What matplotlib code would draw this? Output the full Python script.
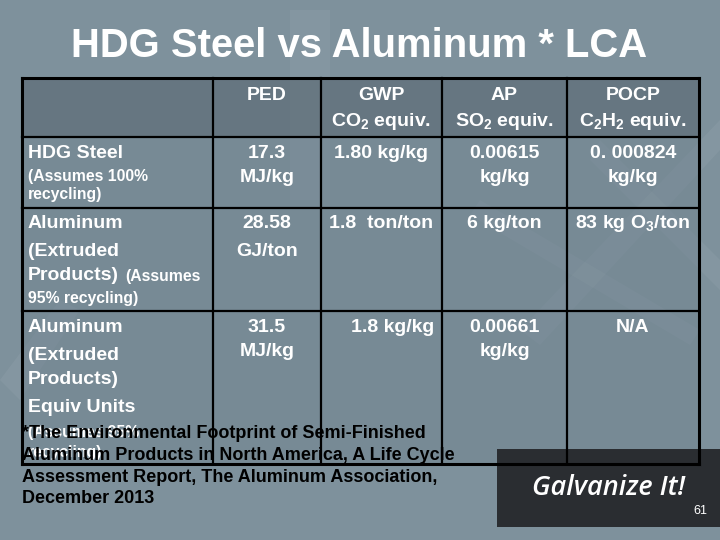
import matplotlib
matplotlib.use("Agg")
import matplotlib.pyplot as plt
from matplotlib.patches import Rectangle, Polygon

plt.rcParams["font.family"] = ["Liberation Sans", "DejaVu Sans"]
plt.rcParams["mathtext.fontset"] = "custom"
plt.rcParams["mathtext.rm"] = "Liberation Sans:bold"
plt.rcParams["mathtext.it"] = "Liberation Sans:bold"
plt.rcParams["mathtext.bf"] = "Liberation Sans:bold"

# ---- data ----
title = "HDG Steel vs Aluminum * LCA"
metrics = ["PED", "GWP", "AP", "POCP"]
metric_units = ["", "CO$_2$ equiv.", "SO$_2$ equiv.", "C$_2$H$_2$ equiv."]

steel_vals = [["17.3", "MJ/kg"], ["1.80 kg/kg"], ["0.00615", "kg/kg"], ["0. 000824", "kg/kg"]]
alu_vals = [["28.58", "GJ/ton"], ["1.8  ton/ton"], ["6 kg/ton"], ["83 kg O$_3$/ton"]]
alu_equiv_vals = [["31.5", "MJ/kg"], ["1.8 kg/kg"], ["0.00661", "kg/kg"], ["N/A"]]

footnote = ["*The Environmental Footprint of Semi-Finished",
            "Aluminum Products in North America, A Life Cycle",
            "Assessment Report, The Aluminum Association,",
            "December 2013"]
page_no = "61"

# ---- layout ----
BG = "#7e919c"
col_x = [22, 213, 321, 442, 567, 699]
row_y = [78, 137, 208, 311, 464]
BIG = 14
SMALL = 11.3

fig = plt.figure(figsize=(7.2, 5.4), dpi=100)
ax = fig.add_axes([0, 0, 1, 1])
ax.set_xlim(0, 720)
ax.set_ylim(540, 0)
ax.axis("off")
fig.patch.set_facecolor(BG)

# decorative light shapes in the background
shapes = [
    [(290, 10), (330, 10), (330, 200), (290, 200)],
    [(520, 330), (720, 120), (720, 150), (540, 345)],
    [(600, 140), (720, 260), (720, 290), (590, 160)],
    [(0, 380), (60, 300), (80, 310), (20, 400)],
    [(480, 200), (700, 330), (690, 345), (470, 215)],
]
for s in shapes:
    ax.add_patch(Polygon(s, closed=True, facecolor="white", alpha=0.05, lw=0))

# table fills
ax.add_patch(Rectangle((col_x[0], row_y[0]), col_x[-1] - col_x[0], row_y[1] - row_y[0],
                       facecolor="#5f6e78", alpha=0.75, lw=0))
ax.add_patch(Rectangle((col_x[0], row_y[1]), col_x[-1] - col_x[0], row_y[-1] - row_y[1],
                       facecolor="#6f828e", alpha=0.45, lw=0))

# grid lines
for x in col_x:
    lw = 2.2 if x in (col_x[0], col_x[-1]) else 1.6
    ax.plot([x, x], [row_y[0], row_y[-1]], color="black", lw=lw, zorder=3)
for y in row_y:
    lw = 2.2 if y in (row_y[0], row_y[-1]) else 1.6
    ax.plot([col_x[0], col_x[-1]], [y, y], color="black", lw=lw, zorder=3)

# title
ax.text(359, 46, title, color="white", fontsize=28.8, fontweight="bold",
        ha="center", va="center")

W = "white"
centers = [(col_x[i + 1] + col_x[i + 2]) / 2 for i in range(4)]

# header
for i, (m, u) in enumerate(zip(metrics, metric_units)):
    ax.text(centers[i], 95, m, color=W, fontsize=BIG, fontweight="bold", ha="center", va="center")
    if u:
        ax.text(centers[i], 121, u, color=W, fontsize=BIG, fontweight="bold", ha="center", va="center")

# row labels
lx = 28
ax.text(lx, 154, "HDG Steel", color=W, fontsize=BIG, fontweight="bold", va="center")
ax.text(lx, 176, "(Assumes 100%", color=W, fontsize=SMALL, fontweight="bold", va="center")
ax.text(lx, 195, "recycling)", color=W, fontsize=SMALL, fontweight="bold", va="center")

ax.text(lx, 224, "Aluminum", color=W, fontsize=BIG, fontweight="bold", va="center")
ax.text(lx, 251, "(Extruded", color=W, fontsize=BIG, fontweight="bold", va="center")
ax.text(lx, 275, "Products)", color=W, fontsize=BIG, fontweight="bold", va="center")
ax.text(125, 277, "(Assumes", color=W, fontsize=SMALL, fontweight="bold", va="center")
ax.text(lx, 298, "95% recycling)", color=W, fontsize=SMALL, fontweight="bold", va="center")

ax.text(lx, 327, "Aluminum", color=W, fontsize=BIG, fontweight="bold", va="center")
ax.text(lx, 355, "(Extruded", color=W, fontsize=BIG, fontweight="bold", va="center")
ax.text(lx, 380, "Products)", color=W, fontsize=BIG, fontweight="bold", va="center")
ax.text(lx, 407, "Equiv Units", color=W, fontsize=BIG, fontweight="bold", va="center")
ax.text(lx, 432, "(Assumes 95%", color=W, fontsize=SMALL, fontweight="bold", va="center")
ax.text(lx, 452, "recycling)", color=W, fontsize=SMALL, fontweight="bold", va="center")


def put_values(vals, y0, dy):
    for i, lines in enumerate(vals):
        for k, t in enumerate(lines):
            ax.text(centers[i], y0 + k * dy, t, color=W, fontsize=BIG,
                    fontweight="bold", ha="center", va="center")


put_values(steel_vals, 154, 24)
put_values(alu_vals, 224, 27)
# third row: GWP value is right aligned in the reference
for i, lines in enumerate(alu_equiv_vals):
    for k, t in enumerate(lines):
        if i == 1:
            ax.text(col_x[3] - 8, 327, t, color=W, fontsize=BIG, fontweight="bold",
                    ha="right", va="center")
        else:
            ax.text(centers[i], 327 + k * 24, t, color=W, fontsize=BIG,
                    fontweight="bold", ha="center", va="center")

# footnote
for k, line in enumerate(footnote):
    ax.text(22, 434 + k * 21.5, line, color="black", fontsize=13, fontweight="bold",
            va="center", zorder=5)

# logo box
ax.add_patch(Rectangle((497, 449), 223, 78, facecolor="#2a2d31", lw=0, zorder=2))
ax.text(609, 488, "Galvanize It!", color="white", fontsize=19.5, fontstyle="italic",
        fontweight="semibold", family=["Open Sans", "DejaVu Sans"], ha="center", va="center", zorder=6)
ax.text(700, 511, page_no, color="white", fontsize=9, ha="center", va="center", zorder=6)

fig.savefig("out.png", dpi=100, facecolor=BG)
